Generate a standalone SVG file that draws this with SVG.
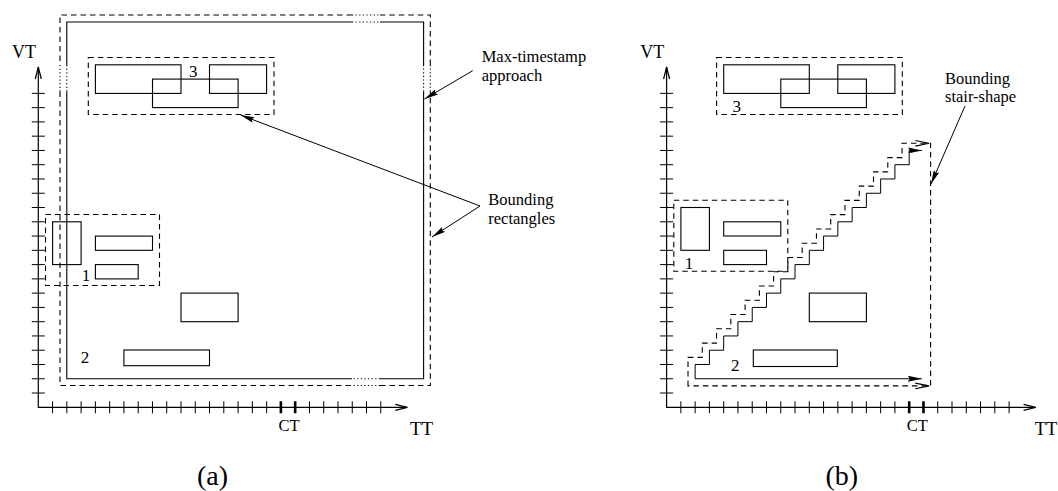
<svg xmlns="http://www.w3.org/2000/svg" width="1058" height="491" viewBox="0 0 1058 491">
<style>
text{font-family:"Liberation Serif","Times New Roman",serif;fill:#000}
.s{fill:none;stroke:#000;stroke-width:1.1}
.d{fill:none;stroke:#000;stroke-width:1.1;stroke-dasharray:5.5 4}
.o{fill:none;stroke:#000;stroke-width:1.1;stroke-dasharray:1.2 2.4}
.ax{fill:none;stroke:#000;stroke-width:1.2}
.tk{fill:none;stroke:#000;stroke-width:1}
.ct{fill:none;stroke:#000;stroke-width:2.6}
.lbl{font-size:16.5px}
.num{font-size:17px;text-anchor:middle}
.cap{font-size:28px;text-anchor:middle}
.fa{fill:none;stroke:#000;stroke-width:1;marker-end:url(#fa)}
</style>
<defs>
<marker id="fa" viewBox="0 0 14 6" refX="14" refY="3" markerWidth="14" markerHeight="6" markerUnits="userSpaceOnUse" orient="auto"><path d="M0,0L14,3L0,6L2,3z" fill="#000"/></marker>
</defs>

<!-- Panel (a) axes -->
<g id="axes-a">
<path class="ax" d="M38.3 67V407.3H407.3"/>
<path class="ax" d="M35.3 79L38.3 67L41.3 79M395.3 404.3L407.3 407.3L395.3 410.3"/>
<path class="tk" d="M31.8 393.03h13M31.8 378.76h13M31.8 364.49h13M31.8 350.22h13M31.8 335.95h13M31.8 321.68h13M31.8 307.41h13M31.8 293.14h13M31.8 278.87h13M31.8 264.6h13M31.8 250.33h13M31.8 236.06h13M31.8 221.79h13M31.8 207.52h13M31.8 193.25h13M31.8 178.98h13M31.8 164.71h13M31.8 150.44h13M31.8 136.17h13M31.8 121.9h13M31.8 107.63h13M31.8 93.36h13"/>
<path class="tk" d="M52.57 401.3v12M66.84 401.3v12M81.11 401.3v12M95.38 401.3v12M109.65 401.3v12M123.92 401.3v12M138.19 401.3v12M152.46 401.3v12M166.73 401.3v12M181 401.3v12M195.27 401.3v12M209.54 401.3v12M223.81 401.3v12M238.08 401.3v12M252.35 401.3v12M266.62 401.3v12M309.43 401.3v12M323.7 401.3v12M337.97 401.3v12M352.24 401.3v12M366.51 401.3v12M380.78 401.3v12"/>
<path class="ct" d="M280.89 401.3v12M295.16 401.3v12"/>
<text x="12" y="58" style="font-size:18px">VT</text>
<text x="410" y="435" style="font-size:19px">TT</text>
<text x="289" y="431" style="font-size:16.5px;text-anchor:middle">CT</text>
</g>

<!-- Panel (a) max-timestamp bounding rectangles -->
<g id="max-bound-a">
<path class="s" d="M352 22H66.8V65M66.8 91.5V378.8H352M380 378.8H423.6V91.5M423.6 65V22H380"/>
<path class="o" d="M352 22H380M423.6 65V91.5M380 378.8H352M66.8 91.5V65"/>
<path class="d" d="M352 15H60V65M60 91.5V385.5H352M380 385.5H430.3V91.5M430.3 65V15H380"/>
<path class="o" d="M352 15H380M430.3 65V91.5M380 385.5H352M60 91.5V65"/>
</g>

<g id="group3-a">
<rect class="d" x="88.3" y="57.5" width="185.7" height="57"/>
<rect class="s" x="95.4" y="64.8" width="85.6" height="28.6"/>
<rect class="s" x="152.5" y="79.1" width="85.6" height="28.5"/>
<rect class="s" x="209.5" y="64.8" width="57.1" height="28.6"/>
<text class="num" x="193.3" y="76.5">3</text>
</g>

<g id="group1-a">
<rect class="d" x="45.5" y="214.5" width="114" height="71"/>
<rect class="s" x="52.6" y="221.8" width="28.5" height="42.8"/>
<rect class="s" x="95.4" y="236.1" width="57.1" height="14.2"/>
<rect class="s" x="95.4" y="264.6" width="42.8" height="14.3"/>
<text class="num" x="86" y="281">1</text>
</g>

<g id="mid-a">
<rect class="s" x="181" y="293.1" width="57.1" height="28.6"/>
</g>

<g id="group2-a">
<rect class="s" x="123.9" y="350" width="85.6" height="15.7"/>
<text class="num" x="85" y="363.3">2</text>
</g>

<g id="label-max">
<text class="lbl" x="481.7" y="62">Max-timestamp</text>
<text class="lbl" x="481.7" y="80.5">approach</text>
</g>
<g id="label-rects">
<text class="lbl" x="488.3" y="205">Bounding</text>
<text class="lbl" x="488.3" y="223.5">rectangles</text>
</g>

<text id="cap-a" class="cap" x="212.5" y="485">(a)</text>

<!-- Panel (b) -->
<g id="axes-b" transform="translate(628.3,0)">
<path class="ax" d="M38.3 67V407.3H407.3"/>
<path class="ax" d="M35.3 79L38.3 67L41.3 79M395.3 404.3L407.3 407.3L395.3 410.3"/>
<path class="tk" d="M31.8 393.03h13M31.8 378.76h13M31.8 364.49h13M31.8 350.22h13M31.8 335.95h13M31.8 321.68h13M31.8 307.41h13M31.8 293.14h13M31.8 278.87h13M31.8 264.6h13M31.8 250.33h13M31.8 236.06h13M31.8 221.79h13M31.8 207.52h13M31.8 193.25h13M31.8 178.98h13M31.8 164.71h13M31.8 150.44h13M31.8 136.17h13M31.8 121.9h13M31.8 107.63h13M31.8 93.36h13"/>
<path class="tk" d="M52.57 401.3v12M66.84 401.3v12M81.11 401.3v12M95.38 401.3v12M109.65 401.3v12M123.92 401.3v12M138.19 401.3v12M152.46 401.3v12M166.73 401.3v12M181 401.3v12M195.27 401.3v12M209.54 401.3v12M223.81 401.3v12M238.08 401.3v12M252.35 401.3v12M266.62 401.3v12M309.43 401.3v12M323.7 401.3v12M337.97 401.3v12M352.24 401.3v12M366.51 401.3v12M380.78 401.3v12"/>
<path class="ct" d="M280.89 401.3v12M295.16 401.3v12"/>
<text x="12" y="58" style="font-size:18px">VT</text>
<text x="406.5" y="435" style="font-size:18.5px">TT</text>
<text x="289" y="431" style="font-size:16.5px;text-anchor:middle">CT</text>
</g>

<g id="group3-b" transform="translate(628.3,0)">
<rect class="d" x="88.3" y="57.5" width="185.7" height="57"/>
<rect class="s" x="95.4" y="64.8" width="85.6" height="28.6"/>
<rect class="s" x="152.5" y="79.1" width="85.6" height="28.5"/>
<rect class="s" x="209.5" y="64.8" width="57.1" height="28.6"/>
<text class="num" x="108.4" y="112">3</text>
</g>

<g id="group1-b" transform="translate(628.3,0)">
<rect class="d" x="45.5" y="200.2" width="114" height="71"/>
<rect class="s" x="52.6" y="207.5" width="28.5" height="42.8"/>
<rect class="s" x="95.4" y="221.8" width="57.1" height="14.2"/>
<rect class="s" x="95.4" y="250.3" width="42.8" height="14.3"/>
<text class="num" x="60.7" y="269">1</text>
</g>

<g id="mid-b" transform="translate(628.3,0)">
<rect class="s" x="181" y="293.1" width="57.1" height="28.6"/>
</g>

<g id="group2-b" transform="translate(628.3,0)">
<rect class="s" x="125" y="350" width="84" height="16.5"/>
<text class="num" x="107" y="371">2</text>
</g>

<g id="stair-b" transform="translate(628.3,0)">
<path class="d" d="M59.7 385.9V357.36H73.98V343.09H88.25V328.82H102.52V314.55H116.79V300.28H131.06V286.01H145.33V271.74H159.6V257.47H173.87V243.2H188.14V228.93H202.41V214.66H216.68V200.39H230.95V186.12H245.22V171.85H259.49V157.58H273.76V143.31H302.3V385.9Z"/>
<path class="s" d="M287 140.5L300.8 143.31L287 146.1M287 383.1L300.8 385.9L287 388.7"/>
<path class="fa" d="M66.84 378.76V364.49H81.11V350.22H95.38V335.95H109.65V321.68H123.92V307.41H138.19V293.14H152.46V278.87H166.73V264.6H181V250.33H195.27V236.06H209.54V221.79H223.81V207.52H238.08V193.25H252.35V178.98H266.62V164.71H280.89V150.44H293.7"/>
<path class="fa" d="M66.84 378.76H293.5"/>
</g>

<g id="label-stair">
<text class="lbl" x="945" y="83.5">Bounding</text>
<text class="lbl" x="945" y="102">stair-shape</text>
</g>

<text id="cap-b" class="cap" x="841.8" y="485">(b)</text>

<g id="connectors">
<path class="fa" d="M472.7 70.7L424.5 99"/>
<path class="fa" d="M480 206L240.5 115"/>
<path class="fa" d="M480 206L432 237"/>
<path class="fa" d="M965 106L931 184"/>
</g>
</svg>
